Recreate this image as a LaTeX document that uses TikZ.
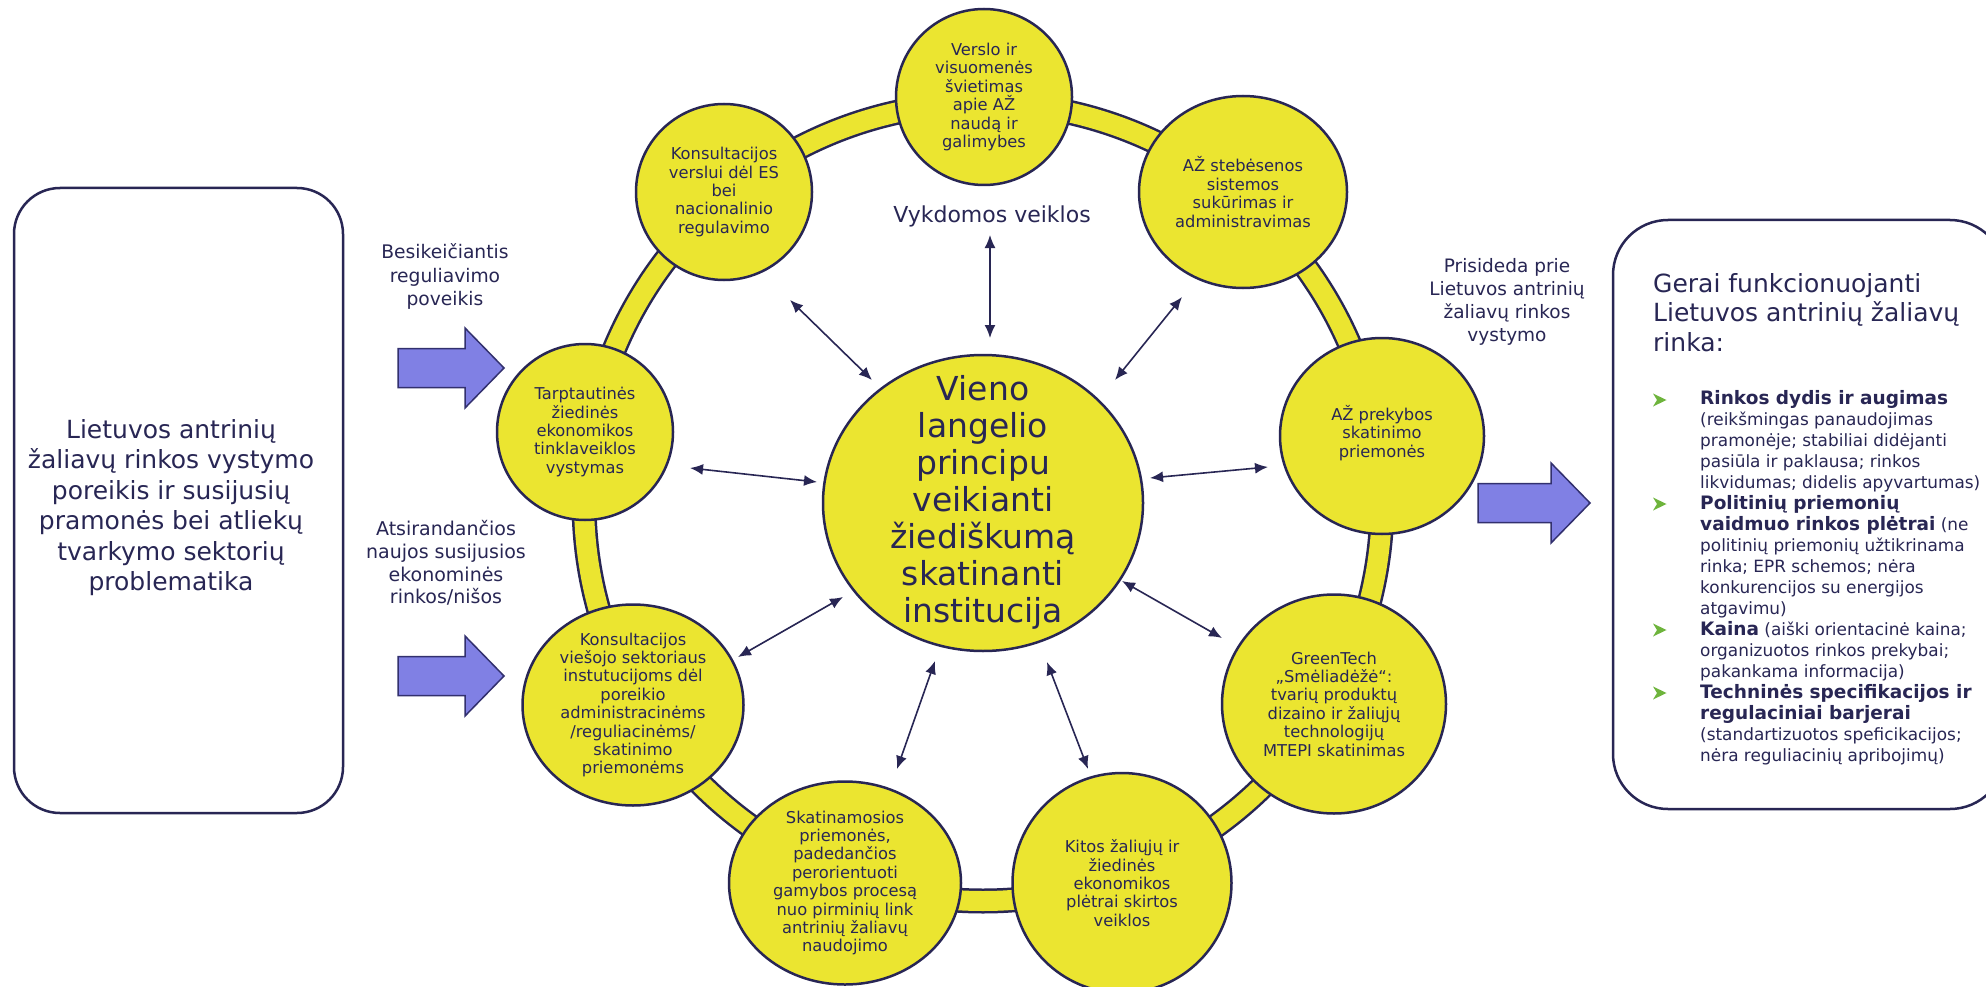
\documentclass[tikz,border=0pt]{standalone}
\usepackage{fontspec}
\setmainfont{DejaVu Sans}
\usetikzlibrary{arrows.meta,shapes.geometric}
\definecolor{navy}{RGB}{40,38,84}
\definecolor{ylw}{RGB}{235,229,48}
\definecolor{lav}{RGB}{128,128,228}
\definecolor{lavline}{RGB}{50,48,110}
\definecolor{bgreen}{RGB}{110,180,60}
\newcommand\myblockarrow[3]{\path[blockarrow] (#1,#2) ++(0,-19.5) -- ++(#3-39,0) -- ++(0,-20.5) -- ++(39,40) -- ++(-39,40) -- ++(0,-20.5) -- ++(-#3+39,0) -- cycle;}
\newcommand\mybullet[1]{\fill[bgreen] (1653,#1) ++(0,-6.5) -- ++(13.5,6.5) -- ++(-13.5,6.5) -- ++(4,-6.5) -- cycle;}
\newcommand\bh[1]{{\fontsize{18.5}{21}\selectfont\bfseries #1}}
\begin{document}
\begin{tikzpicture}[x=1pt,y=-1pt,
  sat/.style={ellipse, draw=navy, fill=ylw, line width=2.5pt, inner sep=0pt},
  sattext/.style={text=navy, align=center, font=\fontsize{16.3}{18.4}\selectfont, inner sep=0pt},
  dbl/.style={<->, >={Latex[length=13pt,width=11pt]}, line width=1.6pt, draw=navy},
  blockarrow/.style={fill=lav, draw=lavline, line width=1.5pt, line join=miter},
  lbl/.style={text=navy, align=center, inner sep=0pt},
  bigbox/.style={draw=navy, line width=2.5pt, fill=white}
]
\useasboundingbox (0,0) rectangle (1986,987);
\clip (0,0) rectangle (1986,987);
\fill[white] (0,0) rectangle (1986,987);

% left box
\node[bigbox, rounded corners=46pt, minimum width=329pt, minimum height=625pt] (L) at (178.5,500.5) {};
\node[lbl, font=\fontsize{25}{30.5}\selectfont] (Lt) at (171,507.5) {Lietuvos antrinių\\žaliavų rinkos vystymo\\poreikis ir susijusių\\pramonės bei atliekų\\tvarkymo sektorių\\problematika};

% right box
\node[bigbox, rounded corners=55pt, minimum width=392pt, minimum height=589pt] (R) at (1809,514.5) {};
\node[lbl, align=left, anchor=west, font=\fontsize{25}{29.5}\selectfont] (Rt) at (1653,312.5) {Gerai funkcionuojanti\\Lietuvos antrinių žaliavų\\rinka:};
\node[anchor=north west, inner sep=0pt, text=navy, font=\fontsize{16.9}{21}\selectfont] (Rl) at (1700,389.9) {\begin{tabular}{@{}l@{}}
\bh{Rinkos dydis ir augimas}\\
(reikšmingas panaudojimas\\
pramonėje; stabiliai didėjanti\\
pasiūla ir paklausa; rinkos\\
likvidumas; didelis apyvartumas)\\
\bh{Politinių priemonių}\\
\bh{vaidmuo rinkos plėtrai} (ne\\
politinių priemonių užtikrinama\\
rinka; EPR schemos; nėra\\
konkurencijos su energijos\\
atgavimu)\\
\bh{Kaina} (aiški orientacinė kaina;\\
organizuotos rinkos prekybai;\\
pakankama informacija)\\
\bh{Techninės specifikacijos ir}\\
\bh{regulaciniai barjerai}\\
(standartizuotos speficikacijos;\\
nėra reguliacinių apribojimų)
\end{tabular}};
\mybullet{400}
\mybullet{504}
\mybullet{630}
\mybullet{693}

% block arrows and their labels
\myblockarrow{398}{368}{106}
\myblockarrow{398}{676}{106}
\myblockarrow{1478}{503}{112}
\node[lbl, font=\fontsize{18.7}{23.5}\selectfont] (besi) at (445,276.5) {Besikeičiantis\\reguliavimo\\poveikis};
\node[lbl, font=\fontsize{19}{22.7}\selectfont] (atsi) at (446,563) {Atsirandančios\\naujos susijusios\\ekonominės\\rinkos/nišos};
\node[lbl, font=\fontsize{18.5}{23}\selectfont] (pris) at (1507,301.5) {Prisideda prie\\Lietuvos antrinių\\žaliavų rinkos\\vystymo};

% ring
\coordinate (ringc) at (983,502);
\draw[navy, line width=25pt] (ringc) circle[radius=399pt];
\draw[ylw, line width=20pt] (ringc) circle[radius=399pt];

% satellites
\node[sat, minimum width=176pt, minimum height=176pt] (K1) at (724,192) {};
\node[sat, minimum width=176pt, minimum height=176pt] (V) at (984,97) {};
\node[sat, minimum width=208pt, minimum height=192pt] (S) at (1243,192) {};
\node[sat, minimum width=204pt, minimum height=196pt] (P) at (1382,436) {};
\node[sat, minimum width=224pt, minimum height=219pt] (G) at (1334,704) {};
\node[sat, minimum width=219pt, minimum height=220pt] (Ki) at (1122,883) {};
\node[sat, minimum width=232pt, minimum height=203pt] (Sk) at (845,883) {};
\node[sat, minimum width=221pt, minimum height=201pt] (K2) at (633,705) {};
\node[sat, minimum width=176pt, minimum height=176pt] (T) at (585,432) {};
\node[sat, minimum width=320pt, minimum height=296pt] (C) at (983,503) {};

\node[sattext] (K1t) at (K1) {Konsultacijos\\verslui dėl ES\\bei\\nacionalinio\\regulavimo};
\node[sattext] (Vt) at (V) {Verslo ir\\visuomenės\\švietimas\\apie AŽ\\naudą ir\\galimybes};
\node[sattext] (St) at (S) {AŽ stebėsenos\\sistemos\\sukūrimas ir\\administravimas};
\node[sattext] (Pt) at (1382,433) {AŽ prekybos\\skatinimo\\priemonės};
\node[sattext] (Gt) at (G) {GreenTech\\„Smėliadėžė“:\\tvarių produktų\\dizaino ir žaliųjų\\technologijų\\MTEPI skatinimas};
\node[sattext] (Kit) at (Ki) {Kitos žaliųjų ir\\žiedinės\\ekonomikos\\plėtrai skirtos\\veiklos};
\node[sattext] (Skt) at (Sk) {Skatinamosios\\priemonės,\\padedančios\\perorientuoti\\gamybos procesą\\nuo pirminių link\\antrinių žaliavų\\naudojimo};
\node[sattext] (K2t) at (K2) {Konsultacijos\\viešojo sektoriaus\\instutucijoms dėl\\poreikio\\administracinėms\\/reguliacinėms/\\skatinimo\\priemonėms};
\node[sattext] (Tt) at (T) {Tarptautinės\\žiedinės\\ekonomikos\\tinklaveiklos\\vystymas};
\node[lbl, font=\fontsize{33}{37}\selectfont] (Ct) at (983,502.5) {Vieno\\langelio\\principu\\veikianti\\žiediškumą\\skatinanti\\institucija};

\node[lbl, font=\fontsize{22}{26}\selectfont] (vyk) at (992,216) {Vykdomos veiklos};

% double arrows
\coordinate (a1s) at (990,338); \coordinate (a1e) at (990,235);
\coordinate (a2s) at (872,380); \coordinate (a2e) at (790,300);
\coordinate (a3s) at (1115,380); \coordinate (a3e) at (1182,297);
\coordinate (a4s) at (817,482); \coordinate (a4e) at (690,468);
\coordinate (a5s) at (1150,478); \coordinate (a5e) at (1268,467);
\coordinate (a6s) at (843,597); \coordinate (a6e) at (738,657);
\coordinate (a7s) at (935,661); \coordinate (a7e) at (897,769);
\coordinate (a8s) at (1047,662); \coordinate (a8e) at (1088,769);
\coordinate (a9s) at (1122,581); \coordinate (a9e) at (1222,638);
\foreach \i in {1,...,9} {\draw[dbl] (a\i s) -- (a\i e);}
\end{tikzpicture}
\end{document}
